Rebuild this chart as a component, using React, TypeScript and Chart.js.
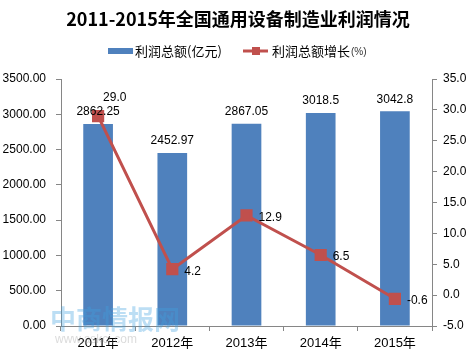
import React, { useEffect, useRef } from 'react';
import { Chart, registerables } from 'chart.js';

Chart.register(...registerables);

const titleText = '2011-2015年全国通用设备制造业利润情况';
const categories = ['2011年', '2012年', '2013年', '2014年', '2015年'];
const profitName = '利润总额(亿元)';
const growthNameMain = '利润总额增长';
const growthNameUnit = '(%)';
const profit = [2862.25, 2452.97, 2867.05, 3018.5, 3042.8];
const profitLabels = ['2862.25', '2452.97', '2867.05', '3018.5', '3042.8'];
const growth = [29.0, 4.2, 12.9, 6.5, -0.6];
const growthLabels = ['29.0', '4.2', '12.9', '6.5', '-0.6'];

const BLUE = '#4F81BD';
const RED = '#C0504D';
const AXIS = '#868686';
const FONT = '"Liberation Sans", "Noto Sans CJK SC", sans-serif';

const decorPlugin = {
  id: 'decor',
  afterDraw(chart: any) {
    const ctx = chart.ctx;
    const W = chart.width;
    ctx.save();
    // title
    ctx.fillStyle = '#000';
    ctx.font = 'bold 18px "Noto Sans CJK SC", "Liberation Sans", sans-serif';
    ctx.textAlign = 'center';
    ctx.textBaseline = 'middle';
    ctx.fillText(titleText, W / 2, 19);

    // legend
    ctx.font = '13px "Noto Sans CJK SC", sans-serif';
    ctx.textAlign = 'left';
    const ly = 51;
    ctx.fillStyle = BLUE;
    ctx.fillRect(108, ly - 3, 25, 6);
    ctx.fillStyle = '#000';
    ctx.fillText(profitName, 135, ly);
    ctx.strokeStyle = RED;
    ctx.lineWidth = 3;
    ctx.beginPath();
    ctx.moveTo(243, ly);
    ctx.lineTo(268, ly);
    ctx.stroke();
    ctx.fillStyle = RED;
    ctx.fillRect(252, ly - 4, 8, 8);
    ctx.fillStyle = '#000';
    ctx.fillText(growthNameMain, 272, ly);
    const mw = ctx.measureText(growthNameMain).width;
    ctx.font = '10px ' + FONT;
    ctx.fillStyle = '#333';
    ctx.fillText(growthNameUnit, 272 + mw + 1, ly + 1);

    // data labels
    ctx.font = '12px ' + FONT;
    const barMeta = chart.getDatasetMeta(0);
    barMeta.data.forEach((el: any, i: number) => {
      ctx.textAlign = 'center';
      ctx.textBaseline = 'middle';
      ctx.fillStyle = '#000';
      ctx.fillText(profitLabels[i], el.x, el.y - 12);
    });
    const lineMeta = chart.getDatasetMeta(1);
    lineMeta.data.forEach((el: any, i: number) => {
      ctx.textBaseline = 'middle';
      ctx.fillStyle = '#000';
      ctx.textAlign = 'left';
      if (i === 0) {
        ctx.fillText(growthLabels[i], el.x + 5, el.y - 18);
      } else {
        ctx.fillText(growthLabels[i], el.x + 12, el.y + 2);
      }
    });

    // watermark
    ctx.globalAlpha = 0.35;
    ctx.fillStyle = '#3fa0e0';
    ctx.font = 'bold 26px "Noto Sans CJK SC", sans-serif';
    ctx.textAlign = 'left';
    ctx.textBaseline = 'middle';
    ctx.fillText('中商情报网', 50, 319);
    ctx.fillStyle = '#999';
    ctx.font = '12px ' + FONT;
    ctx.fillText('www.askci.com', 55, 340);
    ctx.restore();
  },
};

export default function App() {
  const ref = useRef<HTMLCanvasElement | null>(null);
  useEffect(() => {
    if (!ref.current) return;
    const chart = new Chart(ref.current, {
      type: 'bar',
      data: {
        labels: categories,
        datasets: [
          {
            type: 'bar',
            label: profitName,
            data: profit,
            backgroundColor: BLUE,
            yAxisID: 'y',
            barPercentage: 0.4,
            categoryPercentage: 1,
            order: 2,
          },
          {
            type: 'line',
            label: growthNameMain + growthNameUnit,
            data: growth,
            borderColor: RED,
            backgroundColor: RED,
            borderWidth: 3,
            pointStyle: 'rect',
            pointRadius: 6.5,
            pointBackgroundColor: RED,
            pointBorderColor: RED,
            yAxisID: 'y1',
            order: 1,
          },
        ],
      } as any,
      options: {
        animation: false,
        responsive: false,
        layout: { padding: { top: 79, left: 0, right: 0, bottom: 0 } },
        plugins: { legend: { display: false }, title: { display: false }, tooltip: { enabled: false } },
        scales: {
          x: {
            offset: true,
            grid: { offset: true, drawOnChartArea: false, drawTicks: true, tickLength: 5, color: AXIS },
            border: { color: AXIS },
            ticks: { color: '#000', font: { size: 13, family: FONT }, padding: 5, maxRotation: 0 },
            afterFit: (s: any) => { s.height = 28; },
          },
          y: {
            position: 'left',
            min: 0,
            max: 3500,
            grid: { drawOnChartArea: false, drawTicks: true, tickLength: 5, color: AXIS },
            border: { color: AXIS },
            ticks: {
              stepSize: 500,
              color: '#000',
              font: { size: 12, family: FONT },
              padding: 10,
              callback: (v: any) => Number(v).toFixed(2),
            },
            afterFit: (s: any) => { s.width = 61; },
          },
          y1: {
            position: 'right',
            min: -5,
            max: 35,
            grid: { drawOnChartArea: false, drawTicks: true, tickLength: 5, color: AXIS },
            border: { color: AXIS },
            ticks: {
              stepSize: 5,
              color: '#000',
              font: { size: 12, family: FONT },
              padding: 6,
              callback: (v: any) => Number(v).toFixed(1),
            },
            afterFit: (s: any) => { s.width = 44; },
          },
        },
      } as any,
      plugins: [decorPlugin],
    });
    return () => chart.destroy();
  }, []);
  return (
    <div style={{ position: 'fixed', left: 0, top: 0, width: 476, height: 354, background: '#fff' }}>
      <canvas ref={ref} width={476} height={354} style={{ width: 476, height: 354, display: 'block' }} />
    </div>
  );
}
